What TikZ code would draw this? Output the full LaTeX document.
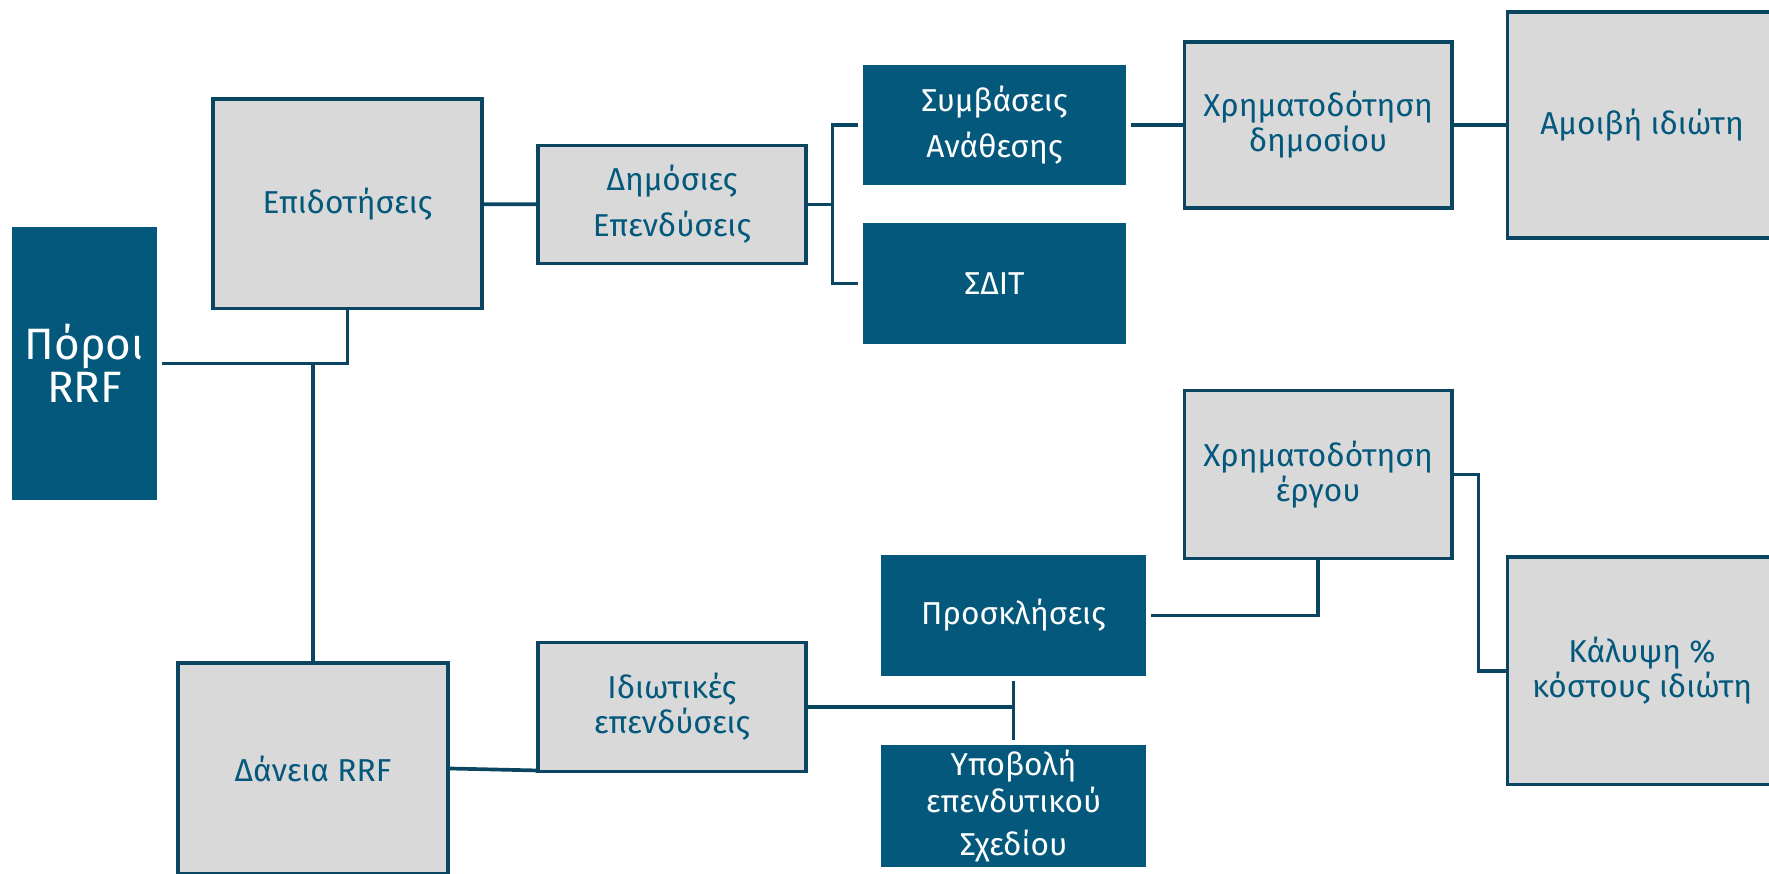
\documentclass[tikz,border=0pt]{standalone}
\usepackage{fontspec}
\setmainfont{Fira Sans}
\usetikzlibrary{positioning}
\definecolor{rrfblue}{HTML}{03587C}
\definecolor{rrfline}{HTML}{0A4661}
\definecolor{rrfgray}{HTML}{D9D9D9}
\tikzset{%
    darkbox/.style={rectangle, fill=rrfblue, text=white, align=center,
        inner sep=0pt, outer sep=1.5pt, font=\fontsize{9}{10}\selectfont},
    graybox/.style={rectangle, draw=rrfline, line width=1.1pt, fill=rrfgray,
        text=rrfblue, align=center, inner sep=0pt, font=\fontsize{9}{10}\selectfont},
    link/.style={draw=rrfline, line width=1.05pt}
}
\begin{document}
\begin{tikzpicture}[x=0.01cm, y=-0.01cm]
    \useasboundingbox (0,0) rectangle (1769,874);
    % left column
    \node[darkbox, minimum width=1.45cm, minimum height=2.73cm,
        font=\fontsize{12.5}{12.2}\selectfont] (poroi) at (84.5,363.5) {Πόροι\\RRF};
    \node[graybox, minimum width=2.68cm, minimum height=2.09cm] (epid) at (347.5,204) {Επιδοτήσεις};
    \node[graybox, minimum width=2.69cm, minimum height=2.10cm] (daneia) at (313,768.5) {Δάνεια RRF};
    % public branch
    \node[graybox, minimum width=2.67cm, minimum height=1.18cm] (dim) at (672,204.5) {Δημόσιες\\[3pt]Επενδύσεις};
    \node[darkbox, minimum width=2.63cm, minimum height=1.19cm] (symv) at (994.5,125) {Συμβάσεις\\[3pt]Ανάθεσης};
    \node[darkbox, minimum width=2.63cm, minimum height=1.21cm] (sdit) at (994.5,283.5) {ΣΔΙΤ};
    \node[graybox, minimum width=2.67cm, minimum height=1.66cm] (xdim) at (1318,125) {Χρηματοδότηση\\δημοσίου};
    \node[graybox, minimum width=2.69cm, minimum height=2.26cm] (amoivi) at (1642,125) {Αμοιβή ιδιώτη};
    % private branch
    \node[graybox, minimum width=2.67cm, minimum height=1.29cm] (idiot) at (672,707) {Ιδιωτικές\\επενδύσεις};
    \node[darkbox, minimum width=2.65cm, minimum height=1.21cm] (prosk) at (1013.5,615.5) {Προσκλήσεις};
    \node[darkbox, minimum width=2.65cm, minimum height=1.22cm] (ypov) at (1013.5,806) {Υποβολή\\[0.5pt]επενδυτικού\\[2.2pt]Σχεδίου};
    \node[graybox, minimum width=2.67cm, minimum height=1.68cm] (xerg) at (1318,474.5) {Χρηματοδότηση\\έργου};
    \node[graybox, minimum width=2.69cm, minimum height=2.27cm] (kalypsi) at (1642,671) {Κάλυψη \%\\κόστους ιδιώτη};

    \draw[link] (poroi) -| (epid);
    \draw[link] (daneia) -- (daneia |- poroi);
    \draw[link] (epid) -- (dim);
    \draw[link] (dim.east) -- ++(25,0) |- (symv);
    \draw[link] (dim.east) -- ++(25,0) |- (sdit);
    \draw[link] (symv) -- (xdim);
    \draw[link] (xdim) -- (amoivi);
    \draw[link] (daneia.east) -- ([yshift=0.03cm]idiot.south west);
    \draw[link] (idiot) -- (idiot -| prosk.south);
    \draw[link] (prosk) -- (ypov);
    \draw[link] (prosk) -| (xerg);
    \draw[link] (xerg.east) -- ++(25,0) |- (kalypsi);
\end{tikzpicture}
\end{document}
